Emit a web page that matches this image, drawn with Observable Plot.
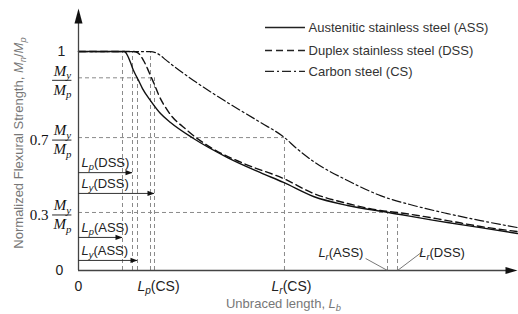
<!DOCTYPE html>
<html><head><meta charset="utf-8">
<script src="https://cdn.jsdelivr.net/npm/d3@7"></script>
<script src="https://cdn.jsdelivr.net/npm/@observablehq/plot@0.6"></script>
<style>body{margin:0;background:#fff} svg{display:block}</style>
</head><body><div id="chart"></div>
<script>
// ---------- data ----------
const seriesNames = ["Austenitic stainless steel (ASS)", "Duplex stainless steel (DSS)", "Carbon steel (CS)"];
const assCurve = [[0,1],[10.48,1],[11.16,0.982],[11.85,0.95],[12.53,0.913],[13.21,0.886],[13.67,0.868],[14.58,0.831],[16.4,0.776],[18.68,0.717],[20.96,0.676],[26.2,0.603],[33.94,0.516],[41.46,0.447],[46.7,0.402],[53.53,0.338],[61.28,0.297],[70.62,0.265],[84.05,0.219],[91.57,0.196],[100,0.169]];
const dssCurve = [[0,1],[12.53,1],[13.44,0.995],[14.12,0.982],[14.81,0.959],[15.72,0.922],[16.4,0.89],[17.31,0.849],[18.22,0.804],[20.27,0.731],[24.83,0.639],[30.07,0.562],[37.59,0.489],[46.7,0.42],[53.53,0.352],[61.28,0.306],[68.79,0.274],[72.67,0.265],[84.05,0.228],[91.57,0.201],[100,0.178]];
const csCurve = [[0,1],[16.4,1],[17.54,0.995],[18.68,0.982],[19.82,0.963],[26.2,0.868],[33.94,0.767],[41.46,0.676],[46.92,0.607],[49.43,0.562],[53.53,0.498],[61.28,0.411],[68.79,0.342],[76.31,0.297],[84.05,0.26],[91.57,0.228],[100,0.196]];

const lengthLabels = ["L_p(ASS)", "L_p(DSS)", "L_y(ASS)", "L_p(CS)", "L_y(DSS)", "L_r(CS)", "L_r(ASS)", "L_r(DSS)"];
const lengthValues = [10.02, 12.30, 13.44, 16.40, 17.31, 46.92, 70.39, 72.67];
const lengthLevels = [1, 1, 0.88, 1, 0.88, 0.607, 0.265, 0.265];

const strengthCoef = ["", "0.7", "0.3"];
const strengthValues = [0.88, 0.607, 0.265];
const strengthEnds = ["L_y(DSS)", "L_r(CS)", "L_r(DSS)"];

const arrowLabels = ["L_p(DSS)", "L_y(DSS)", "L_p(ASS)", "L_y(ASS)"];

const xAxisLabel = "Unbraced length, L_b";
const yAxisLabel = "Normalized Flexural Strength, M_n/M_p";

// ---------- layout ----------
const arrowRows = [0.447, 0.352, 0.151, 0.046];
const legendRows = [1.11, 1.005, 0.909];
const dashes = [null, "7,4", "9,3,2,3"];
const widths = [1.4, 1.4, 1.2];
const curves = [assCurve, dssCurve, csCurve];

const L = Object.fromEntries(lengthLabels.map((k, i) => [k, lengthValues[i]]));
const guides = lengthLabels.map((k, i) => ({x: lengthValues[i], top: lengthLevels[i]}));
const hGuides = strengthValues.map((v, i) => ({y: v, x2: L[strengthEnds[i]]}));
const arrows = arrowLabels.map((k, i) => ({label: k, end: L[k], y: arrowRows[i]}));
const fracs = strengthValues.map((v, i) => ({y: v, coef: strengthCoef[i]}));

const upArrow = {draw(c) { c.moveTo(0, 0); c.lineTo(4, 15); c.lineTo(-4, 15); c.closePath(); }};
const rightArrow = {draw(c) { c.moveTo(0, 0); c.lineTo(-12, -3.5); c.lineTo(-12, 3.5); c.closePath(); }};
const smallArrow = {draw(c) { c.moveTo(0, 0); c.lineTo(-7, -2.6); c.lineTo(-7, 2.6); c.closePath(); }};

const serif = "'Liberation Serif', 'DejaVu Serif', serif";
const guideStyle = {stroke: "#8a8a8a", strokeWidth: 1, strokeDasharray: "4,3"};

const marks = [
  Plot.ruleX(guides, {x: "x", y1: 0, y2: "top", ...guideStyle}),
  Plot.ruleY(hGuides, {y: "y", x1: 0, x2: "x2", ...guideStyle}),
];
curves.forEach((c, i) => {
  marks.push(Plot.line(c, {x: d => d[0], y: d => d[1], stroke: "#111", strokeWidth: widths[i],
    strokeDasharray: dashes[i], curve: "monotone-x"}));
  marks.push(Plot.ruleY([legendRows[i]], {x1: 42.6, x2: 51.7, stroke: "#222", strokeWidth: widths[i], strokeDasharray: dashes[i]}));
  marks.push(Plot.text([seriesNames[i]], {x: 52.4, y: legendRows[i], text: d => d, textAnchor: "start", fill: "#333", fontSize: 13}));
});
marks.push(
  // axes
  Plot.ruleX([0], {y1: 0, y2: 1.14, stroke: "#444", strokeWidth: 1.3}),
  Plot.ruleY([0], {x1: 0, x2: 98, stroke: "#444", strokeWidth: 1.3}),
  Plot.dot([0], {x: 0, y: 1.196, symbol: upArrow, fill: "#111", stroke: "none"}),
  Plot.dot([0], {x: 100, y: 0, symbol: rightArrow, fill: "#111", stroke: "none"}),
  // arrows from axis
  Plot.ruleY(arrows, {y: "y", x1: 0, x2: "end", stroke: "#333", strokeWidth: 1}),
  Plot.dot(arrows, {x: "end", y: "y", symbol: smallArrow, fill: "#111", stroke: "none"}),
  Plot.text(arrows, {x: 0, y: "y", text: "label", dx: 3, dy: -10, textAnchor: "start", fill: "#222", fontSize: 13}),
  // y tick labels
  Plot.text(["1"], {x: 0, y: 1, text: d => d, dx: -17, fill: "#222", fontSize: 14}),
  Plot.text(["0"], {x: 0, y: 0, text: d => d, dx: -19, fill: "#222", fontSize: 14}),
  Plot.text(fracs, {x: 0, y: "y", text: () => "M_y", dx: -16, dy: -7, fontFamily: serif, fontStyle: "italic", fontSize: 15, fill: "#111"}),
  Plot.text(fracs, {x: 0, y: "y", text: () => "M_p", dx: -16, dy: 12, fontFamily: serif, fontStyle: "italic", fontSize: 15, fill: "#111"}),
  Plot.ruleY(fracs, {y: "y", x1: -5.9, x2: -1.5, dy: 2.5, stroke: "#111", strokeWidth: 0.9}),
  Plot.text(fracs, {x: 0, y: "y", text: "coef", dx: -30, dy: 3, textAnchor: "end", fontFamily: serif, fontSize: 15, fill: "#111"}),
  // x tick labels
  Plot.text(["0"], {x: 0, y: 0, text: d => d, dy: 16, fill: "#222", fontSize: 14}),
  Plot.text(["L_p(CS)"], {x: L["L_p(CS)"], y: 0, text: d => d, dx: 8, dy: 16, fill: "#222", fontSize: 14}),
  Plot.text(["L_r(CS)"], {x: L["L_r(CS)"], y: 0, text: d => d, dx: 7, dy: 16, fill: "#222", fontSize: 14}),
  // Lr labels with leaders
  Plot.link([0], {x1: L["L_r(ASS)"], y1: 0, x2: 65.4, y2: 0.055, stroke: "#555", strokeWidth: 0.8}),
  Plot.link([0], {x1: L["L_r(DSS)"], y1: 0, x2: 78.4, y2: 0.087, stroke: "#555", strokeWidth: 0.8}),
  Plot.text(["L_r(ASS)"], {x: 64.9, y: 0.082, text: d => d, textAnchor: "end", fill: "#222", fontSize: 13}),
  Plot.text(["L_r(DSS)"], {x: 77.6, y: 0.082, text: d => d, textAnchor: "start", fill: "#222", fontSize: 13}),
  // axis titles
  Plot.text([xAxisLabel], {x: 46.7, y: 0, text: d => d, dy: 33, fill: "#777", fontSize: 13}),
  Plot.text([yAxisLabel], {frameAnchor: "left", text: d => d, rotate: -90, textAnchor: "middle", dx: -60, dy: 3, fill: "#777", fontSize: 13})
);

const chart = Plot.plot({
  width: 518, height: 314,
  marginLeft: 78, marginRight: 1, marginTop: 9, marginBottom: 44,
  x: {domain: [0, 100], axis: null},
  y: {domain: [0, 1.192], axis: null},
  style: {fontFamily: "'Liberation Sans', Arial, sans-serif", fontSize: "13px", background: "#fff", overflow: "visible"},
  marks
});

// turn "X_y" into italic X with italic subscript y
d3.select(chart).selectAll("text").each(function() {
  const t = this.textContent;
  if (!t.includes("_")) return;
  const el = d3.select(this);
  el.text(null);
  const re = /([A-Za-z])_([A-Za-z])/g;
  let last = 0, m, shifted = false;
  const add = (s, opts = {}) => {
    const ts = el.append("tspan").text(s);
    if (opts.italic) ts.attr("font-style", "italic");
    if (opts.sub) ts.attr("font-size", "72%");
    if (opts.dy) ts.attr("dy", opts.dy);
    return ts;
  };
  while ((m = re.exec(t))) {
    if (m.index > last) { add(t.slice(last, m.index), {dy: shifted ? -3.5 : null}); shifted = false; }
    add(m[1], {italic: true, dy: shifted ? -3.5 : null});
    add(m[2], {italic: true, sub: true, dy: 3.5});
    shifted = true;
    last = re.lastIndex;
  }
  if (last < t.length) add(t.slice(last), {dy: shifted ? -3.5 : null});
});

document.getElementById("chart").appendChild(chart);
</script>
</body></html>
